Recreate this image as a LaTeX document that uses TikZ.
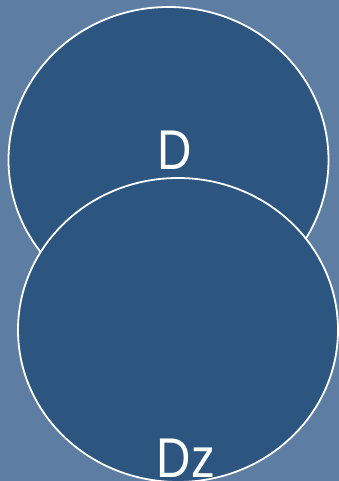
\documentclass[tikz,border=0pt]{standalone}
\usepackage{fontspec}
\setmainfont{Liberation Sans}[FakeStretch=0.85]
\usetikzlibrary{shapes.geometric}
\definecolor{bgblue}{RGB}{94,125,163}
\definecolor{discblue}{RGB}{44,85,128}
\tikzset{
  disc/.style={ellipse, draw=white, line width=1.8pt, fill=discblue, inner sep=0pt},
  lbl/.style={text=white, font=\fontsize{56}{60}\selectfont, anchor=base, inner sep=0pt}
}
\begin{document}
\begin{tikzpicture}[x=1pt,y=-1pt]
\useasboundingbox (0,0) rectangle (339,481);
\clip (0,0) rectangle (339,481);
\fill[bgblue] (0,0) rectangle (339,481);
\node[disc, minimum width=320pt, minimum height=306pt] (d) at (168.5,160) {};
\node[disc, minimum width=320pt, minimum height=304pt] (dz) at (178,330) {};
\node[lbl] (dl) at (174.5,169) {D};
\node[lbl] (dzl) at (186,477) {Dz};
\end{tikzpicture}
\end{document}
